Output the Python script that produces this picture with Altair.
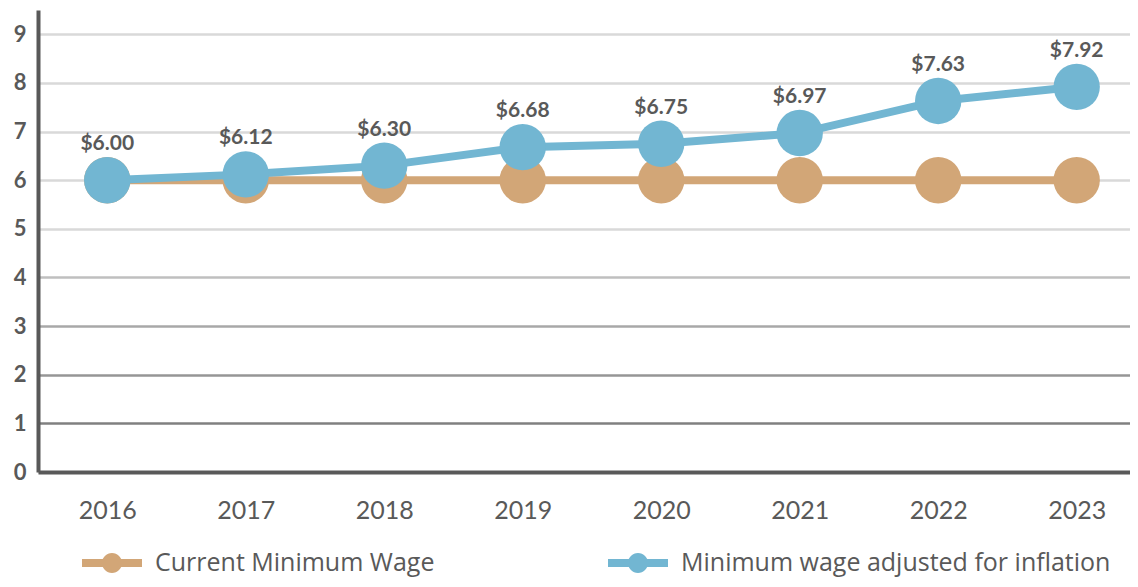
import altair as alt
import pandas as pd

years = [2016, 2017, 2018, 2019, 2020, 2021, 2022, 2023]
current_wage = [6.00, 6.00, 6.00, 6.00, 6.00, 6.00, 6.00, 6.00]
adjusted_wage = [6.00, 6.12, 6.30, 6.68, 6.75, 6.97, 7.63, 7.92]
series_names = ["Current Minimum Wage", "Minimum wage adjusted for inflation"]
series_colors = ["#d2a677", "#72b6d2"]
y_ticks = [0, 1, 2, 3, 4, 5, 6, 7, 8, 9]

tan = pd.DataFrame({"year": years, "wage": current_wage, "series": series_names[0]})
blue = pd.DataFrame({"year": years, "wage": adjusted_wage, "series": series_names[1]})

FONT = "Lato"
LEG_FONT = "Open Sans"
TXT = "#595959"

legend_path = ("M-1.5,-0.2L1.5,-0.2L1.5,0.2L-1.5,0.2Z "
               "M0.5,0A0.5,0.5 0 1 1 -0.5,0A0.5,0.5 0 1 1 0.5,0Z")

x_enc = alt.X(
    "year:Q",
    scale=alt.Scale(domain=[2015.5, 2023.385], nice=False, zero=False),
    axis=alt.Axis(
        title=None, ticks=False, grid=False, labelAngle=0, values=years, format="d",
        labelFont=FONT, labelFontSize=25, labelColor=TXT, labelPadding=26,
        domainColor=TXT, domainWidth=4, labelFlush=False,
    ),
)

grid_color = {
    "condition": [
        {"test": "datum.value == 1", "value": "#808080"},
        {"test": "datum.value == 2", "value": "#969696"},
        {"test": "datum.value == 3", "value": "#a8a8a8"},
        {"test": "datum.value == 4", "value": "#bfbfbf"},
    ],
    "value": "#d9d9d9",
}

y_enc = alt.Y(
    "wage:Q",
    scale=alt.Scale(domain=[0, 9.5], nice=False),
    axis=alt.Axis(
        title=None, ticks=False, values=y_ticks, format="d",
        labelFont=FONT, labelFontSize=22, labelFontWeight="bold", labelColor=TXT,
        labelPadding=12, domainColor=TXT, domainWidth=4,
        gridColor=grid_color, gridWidth=2.5,
    ),
)

color_enc = alt.Color(
    "series:N",
    scale=alt.Scale(domain=series_names, range=series_colors),
    legend=alt.Legend(
        title=None, orient="none", direction="horizontal",
        legendX=54, legendY=533,
        symbolType=legend_path, symbolSize=1600, symbolStrokeWidth=0,
        labelFont=LEG_FONT, labelFontSize=25, labelColor=TXT, labelLimit=800,
        labelOffset=23, columnPadding=173,
    ),
)

tan_line = alt.Chart(tan).mark_line(strokeWidth=8, color=series_colors[0]).encode(x=x_enc, y=y_enc)
tan_pts = alt.Chart(tan).mark_point(filled=True, size=2150, opacity=1).encode(
    x=x_enc, y=y_enc, color=color_enc
)
blue_line = alt.Chart(blue).mark_line(strokeWidth=8, color=series_colors[1]).encode(x=x_enc, y=y_enc)
blue_pts = alt.Chart(blue).mark_point(filled=True, size=2150, opacity=1).encode(
    x=x_enc, y=y_enc, color=color_enc
)
labels = alt.Chart(blue).mark_text(
    font=FONT, fontSize=21, fontWeight="bold", color=TXT, dy=-30, baseline="alphabetic"
).transform_calculate(
    lab="'$' + format(datum.wage, '.2f')"
).encode(x=x_enc, y=y_enc, text="lab:N")

chart = alt.layer(tan_line, tan_pts, blue_line, blue_pts, labels).properties(
    width=1092, height=462,
    autosize=alt.AutoSizeParams(type="none"),
    padding={"left": 30, "top": 2, "right": 0, "bottom": 107},
).configure_view(stroke=None)

chart.save("out.html", embed_options={"renderer": "svg", "actions": False})
